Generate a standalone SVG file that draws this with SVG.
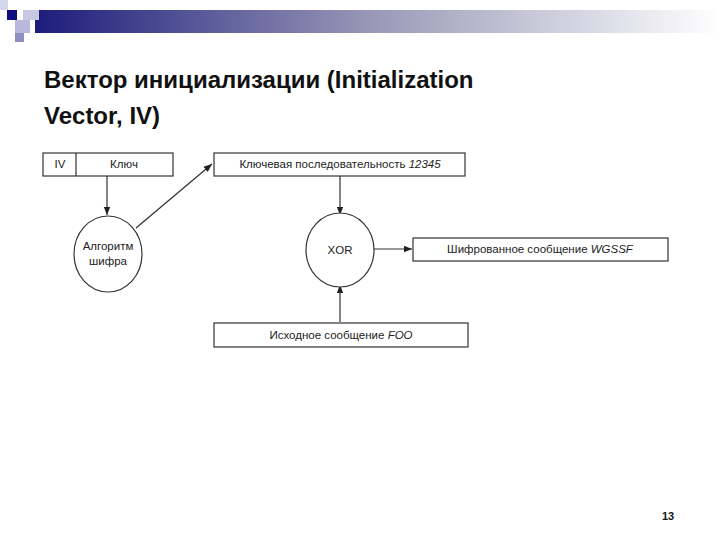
<svg xmlns="http://www.w3.org/2000/svg" width="720" height="540" viewBox="0 0 720 540">
<defs>
<linearGradient id="g" x1="0" x2="1" y1="0" y2="0"><stop offset="0" stop-color="#1c1c7c"/><stop offset="0.5" stop-color="#9a9ab8"/><stop offset="1" stop-color="#ffffff"/></linearGradient>
<marker id="a" viewBox="0 0 10 10" refX="10" refY="5" markerWidth="7" markerHeight="7" orient="auto"><path d="M0,1 L10,5 L0,9 z" fill="#222"/></marker>
<style>
.b{fill:#fff;stroke:#333;stroke-width:1.2}
.t{font-family:"Liberation Sans",Arial,sans-serif;font-size:11.5px;fill:#222;text-anchor:middle}
.c{stroke:#333;stroke-width:1.2;fill:none;marker-end:url(#a)}
</style>
</defs>
<rect width="720" height="540" fill="#fff"/>
<rect x="35" y="10" width="685" height="23" fill="url(#g)"/>
<rect x="0" y="0" width="8" height="10" fill="#d6d6ec"/>
<rect x="7" y="10" width="10" height="10" fill="#0d0d80"/>
<rect x="23" y="10" width="16" height="10" fill="#c8c8e4"/>
<rect x="15" y="20" width="15" height="13" fill="#b8b8dc"/>
<rect x="15" y="33" width="9" height="9" fill="#9090c0"/>
<text x="44" y="88" font-family="Liberation Sans,Arial,sans-serif" font-size="24" font-weight="bold" fill="#111">Вектор инициализации (Initialization</text>
<text x="44" y="124" font-family="Liberation Sans,Arial,sans-serif" font-size="24" font-weight="bold" fill="#111">Vector, IV)</text>
<g id="connectors">
<line class="c" x1="107" y1="176" x2="107" y2="215"/>
<line class="c" x1="136" y1="228" x2="212" y2="164"/>
<line class="c" x1="340" y1="176" x2="340" y2="215"/>
<line class="c" x1="374" y1="249" x2="412" y2="249"/>
<line class="c" x1="340" y1="322" x2="340" y2="285"/>
</g>
<g id="ivkey"><rect class="b" x="43" y="153" width="130" height="23"/><line x1="76" y1="153" x2="76" y2="176" stroke="#333" stroke-width="1.2"/>
<text class="t" x="60" y="168">IV</text><text class="t" x="124" y="168">Ключ</text></g>
<g id="keystream"><rect class="b" x="214" y="153" width="251" height="23"/><text class="t" x="340" y="168">Ключевая последовательность <tspan font-style="italic">12345</tspan></text></g>
<g id="alg"><ellipse class="b" cx="108" cy="254" rx="34" ry="38"/><text class="t" x="108" y="250">Алгоритм</text><text class="t" x="108" y="265">шифра</text></g>
<g id="xor"><ellipse class="b" cx="340" cy="250" rx="34" ry="37"/><text class="t" x="340" y="254">XOR</text></g>
<g id="cipher"><rect class="b" x="413" y="238" width="255" height="23"/><text class="t" x="540" y="253">Шифрованное сообщение <tspan font-style="italic">WGSSF</tspan></text></g>
<g id="source"><rect class="b" x="214" y="323" width="254" height="24"/><text class="t" x="341" y="339">Исходное сообщение <tspan font-style="italic">FOO</tspan></text></g>
<text x="668" y="520" font-family="Liberation Sans,Arial,sans-serif" font-size="11" font-weight="bold" text-anchor="middle" fill="#111">13</text>
</svg>
